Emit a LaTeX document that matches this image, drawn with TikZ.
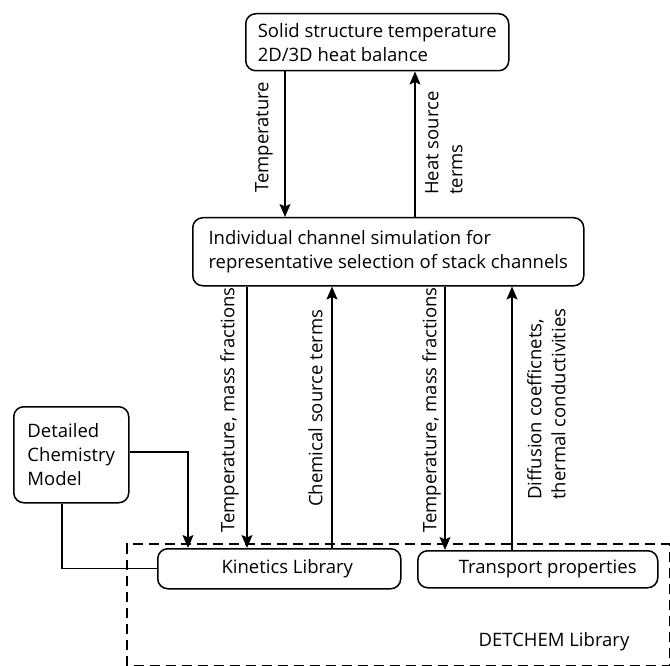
\documentclass[tikz,border=0pt]{standalone}
\usepackage{fontspec}
\setmainfont{Open Sans}
\usetikzlibrary{arrows.meta}
\begin{document}
\begin{tikzpicture}[x=1pt,y=-1pt,
  box/.style={draw, line width=1.5pt, rounded corners=10pt, fill=white, inner sep=0pt},
  arr/.style={line width=1.4pt, -{Stealth[length=13pt,width=11pt,inset=2.5pt]}},
  conn/.style={line width=1.4pt},
  lbl/.style={rotate=90, anchor=north west, inner sep=0pt, font=\fontsize{18.5}{24}\selectfont, align=left},
  txt/.style={font=\fontsize{18.5}{24}\selectfont}]
\useasboundingbox (0,0) rectangle (670,666);
\draw[line width=1.4pt, dash pattern=on 10pt off 6pt] (127,665.7) rectangle (669.7,544);
\node[box, txt, anchor=north west, minimum width=263pt, minimum height=57pt, align=left] (solid) at (245,13) {Solid structure temperature\\2D/3D heat balance};
\node[box, txt, anchor=north west, minimum width=391pt, minimum height=68pt, align=left] (chan) at (192,217) {Individual channel simulation for\\representative selection of stack channels};
\node[box, txt, anchor=north west, minimum width=115pt, minimum height=96pt, align=left] (chem) at (13,406) {Detailed\\Chemistry\\Model};
\node[box, txt, anchor=north west, minimum width=243pt, minimum height=40pt] (kin) at (157,548) {\hspace*{16pt}Kinetics Library};
\node[box, txt, anchor=north west, minimum width=240pt, minimum height=37pt] (trans) at (417,550) {\hspace*{20pt}Transport properties};
\node[txt] (det) at (554,642) {DETCHEM Library};
% arrows
\draw[arr] (solid.south -| 285,0) -- (chan.north -| 285,0);
\draw[arr] (chan.north -| 415,0) -- (solid.south -| 415,0);
\draw[arr] (chan.south -| 247,0) -- (kin.north -| 247,0);
\draw[arr] (kin.north -| 332,0) -- (chan.south -| 332,0);
\draw[arr] (chan.south -| 445,0) -- (trans.north -| 445,0);
\draw[arr] (trans.north -| 512,0) -- (chan.south -| 512,0);
\draw[arr] (chem.east |- 0,452) -| (kin.north -| 188,0);
\draw[conn] (chem.south -| 62,0) |- (kin.west);
% labels
\node[lbl] (l1) at (255,193) {Temperature};
\node[lbl] (l2) at (425,195) {Heat source\\terms};
\node[lbl] (l3) at (220,533) {Temperature, mass fractions};
\node[lbl] (l4) at (308,507) {Chemical source terms};
\node[lbl] (l5) at (422,533) {Temperature, mass fractions};
\node[lbl] (l6) at (527,500) {Diffusion coefficnets,\\thermal conductivities};
\end{tikzpicture}
\end{document}
